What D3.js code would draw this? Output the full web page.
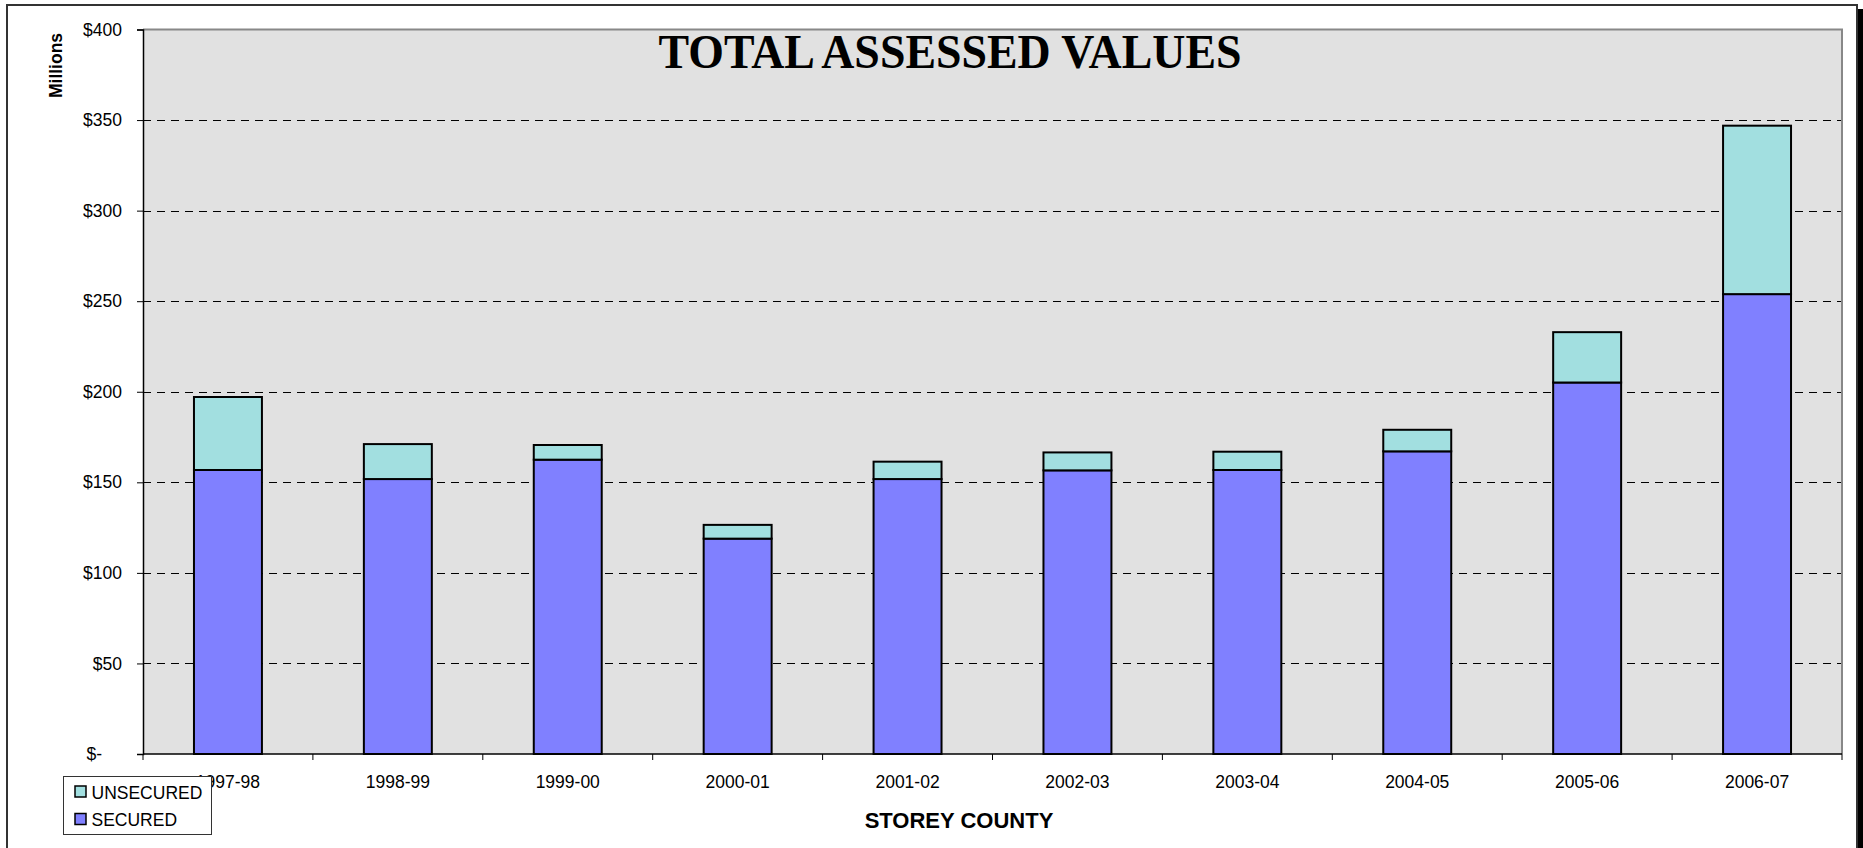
<!DOCTYPE html>
<html>
<head>
<meta charset="utf-8">
<script src="https://cdn.jsdelivr.net/npm/d3@7"></script>
<style>
  html, body { margin: 0; padding: 0; background: #ffffff; }
  svg { display: block; }
</style>
</head>
<body>
<svg id="chart" width="1863" height="848"></svg>
<script>
// Fiscal years shown along the horizontal axis
const years = ["1997-98", "1998-99", "1999-00", "2000-01", "2001-02",
               "2002-03", "2003-04", "2004-05", "2005-06", "2006-07"];

// Assessed values, millions of dollars
const secured   = [156.8, 151.8, 162.5, 118.9, 151.8, 156.6, 156.8, 167.1, 205.1, 253.9];
const unsecured = [40.3, 19.3, 8.1, 7.6, 9.6, 9.9, 10.1, 11.9, 27.8, 93.0];

// Value-axis ticks and their labels
const yTicks      = [0, 50, 100, 150, 200, 250, 300, 350, 400];
const yTickLabels = ["$-", "$50", "$100", "$150", "$200", "$250", "$300", "$350", "$400"];

const seriesNames  = ["SECURED", "UNSECURED"];
const seriesColors = { SECURED: "#8080ff", UNSECURED: "#a2dfe0" };

const svg = d3.select("#chart");
const plot = { left: 143, right: 1842, top: 29.5, bottom: 754 };
const sans = "'Liberation Sans', Arial, sans-serif";

// Outer frame with a drop shadow on the right
svg.append("rect").attr("x", 1857).attr("y", 9).attr("width", 6).attr("height", 845).attr("fill", "#000");
svg.append("rect").attr("x", 7).attr("y", 5).attr("width", 1850).attr("height", 860)
  .attr("fill", "#fff").attr("stroke", "#333").attr("stroke-width", 2);

const x = d3.scaleBand().domain(years).range([plot.left, plot.right])
  .paddingInner(0.6).paddingOuter(0.3);
const y = d3.scaleLinear().domain([0, 400]).range([plot.bottom, plot.top]);

// Plot area
svg.append("rect")
  .attr("x", plot.left).attr("y", plot.top)
  .attr("width", plot.right - plot.left).attr("height", plot.bottom - plot.top)
  .attr("fill", "#e1e1e1");

// Dashed gridlines
svg.append("g").selectAll("line")
  .data(yTicks.filter(v => v > 0 && v < 400))
  .join("line")
  .attr("x1", plot.left).attr("x2", plot.right)
  .attr("y1", d => Math.round(y(d)) + 0.5).attr("y2", d => Math.round(y(d)) + 0.5)
  .attr("stroke", "#000").attr("stroke-width", 1)
  .attr("stroke-dasharray", "8,6");

// Top and right borders of the plot
svg.append("path")
  .attr("d", `M${plot.left},${plot.top}H${plot.right}V${plot.bottom}`)
  .attr("fill", "none").attr("stroke", "#888").attr("stroke-width", 2);

// Stacked bars
const rows = years.map((yr, i) => ({ year: yr, SECURED: secured[i], UNSECURED: unsecured[i] }));
const stacked = d3.stack().keys(seriesNames)(rows);

svg.append("g").selectAll("g")
  .data(stacked)
  .join("g")
  .attr("fill", d => seriesColors[d.key])
  .selectAll("rect")
  .data(d => d)
  .join("rect")
  .attr("x", d => x(d.data.year))
  .attr("width", x.bandwidth())
  .attr("y", d => y(d[1]))
  .attr("height", d => y(d[0]) - y(d[1]))
  .attr("stroke", "#000").attr("stroke-width", 2);

// Value axis
const yAxis = d3.axisLeft(y).tickValues(yTicks).tickSize(6).tickPadding(15)
  .tickFormat((d, i) => yTickLabels[i]);
const gy = svg.append("g").attr("transform", `translate(${plot.left},0)`).call(yAxis);
gy.select(".domain").attr("stroke", "#000").attr("stroke-width", 1.5);
gy.selectAll(".tick line").attr("stroke", "#000");
gy.selectAll(".tick text")
  .attr("font-family", sans).attr("font-size", 17.5).attr("fill", "#000")
  .attr("dx", d => d === 0 ? -20 : 0);

// Category axis: tick marks sit on the boundaries between years
const step = x.step();
const boundaries = d3.range(years.length + 1).map(i => plot.left + i * step);
svg.append("line")
  .attr("x1", plot.left).attr("x2", plot.right)
  .attr("y1", plot.bottom).attr("y2", plot.bottom)
  .attr("stroke", "#000").attr("stroke-width", 1.5);
svg.append("g").selectAll("line")
  .data(boundaries)
  .join("line")
  .attr("x1", d => d).attr("x2", d => d)
  .attr("y1", plot.bottom).attr("y2", plot.bottom + 6)
  .attr("stroke", "#000").attr("stroke-width", 1);
svg.append("g").selectAll("text")
  .data(years)
  .join("text")
  .attr("x", d => x(d) + x.bandwidth() / 2)
  .attr("y", 788)
  .attr("text-anchor", "middle")
  .attr("font-family", sans).attr("font-size", 17.5).attr("fill", "#000")
  .text(d => d);

// Titles
svg.append("text")
  .attr("x", 950).attr("y", 68)
  .attr("text-anchor", "middle")
  .attr("font-family", "'Liberation Serif', 'Times New Roman', serif")
  .attr("font-weight", "bold").attr("font-size", 49)
  .attr("textLength", 583).attr("lengthAdjust", "spacingAndGlyphs")
  .text("TOTAL ASSESSED VALUES");

svg.append("text")
  .attr("transform", "translate(61.5,65.5) rotate(-90)")
  .attr("text-anchor", "middle")
  .attr("font-family", sans).attr("font-weight", "bold").attr("font-size", 17.5)
  .text("Millions");

svg.append("text")
  .attr("x", 959).attr("y", 828)
  .attr("text-anchor", "middle")
  .attr("font-family", sans).attr("font-weight", "bold").attr("font-size", 22)
  .text("STOREY COUNTY");

// Legend
const legend = svg.append("g");
legend.append("rect")
  .attr("x", 63.5).attr("y", 776.5).attr("width", 148).attr("height", 58)
  .attr("fill", "#fff").attr("stroke", "#333").attr("stroke-width", 1);
const legendItems = ["UNSECURED", "SECURED"];
legend.selectAll("g")
  .data(legendItems)
  .join("g")
  .attr("transform", (d, i) => `translate(75,${786 + i * 27.5})`)
  .each(function (d) {
    const g = d3.select(this);
    g.append("rect").attr("width", 11).attr("height", 11)
      .attr("fill", seriesColors[d]).attr("stroke", "#000").attr("stroke-width", 1.5);
    g.append("text").attr("x", 16.5).attr("y", 12.5)
      .attr("font-family", sans).attr("font-size", 17.5).attr("fill", "#000")
      .text(d);
  });
</script>
</body>
</html>
